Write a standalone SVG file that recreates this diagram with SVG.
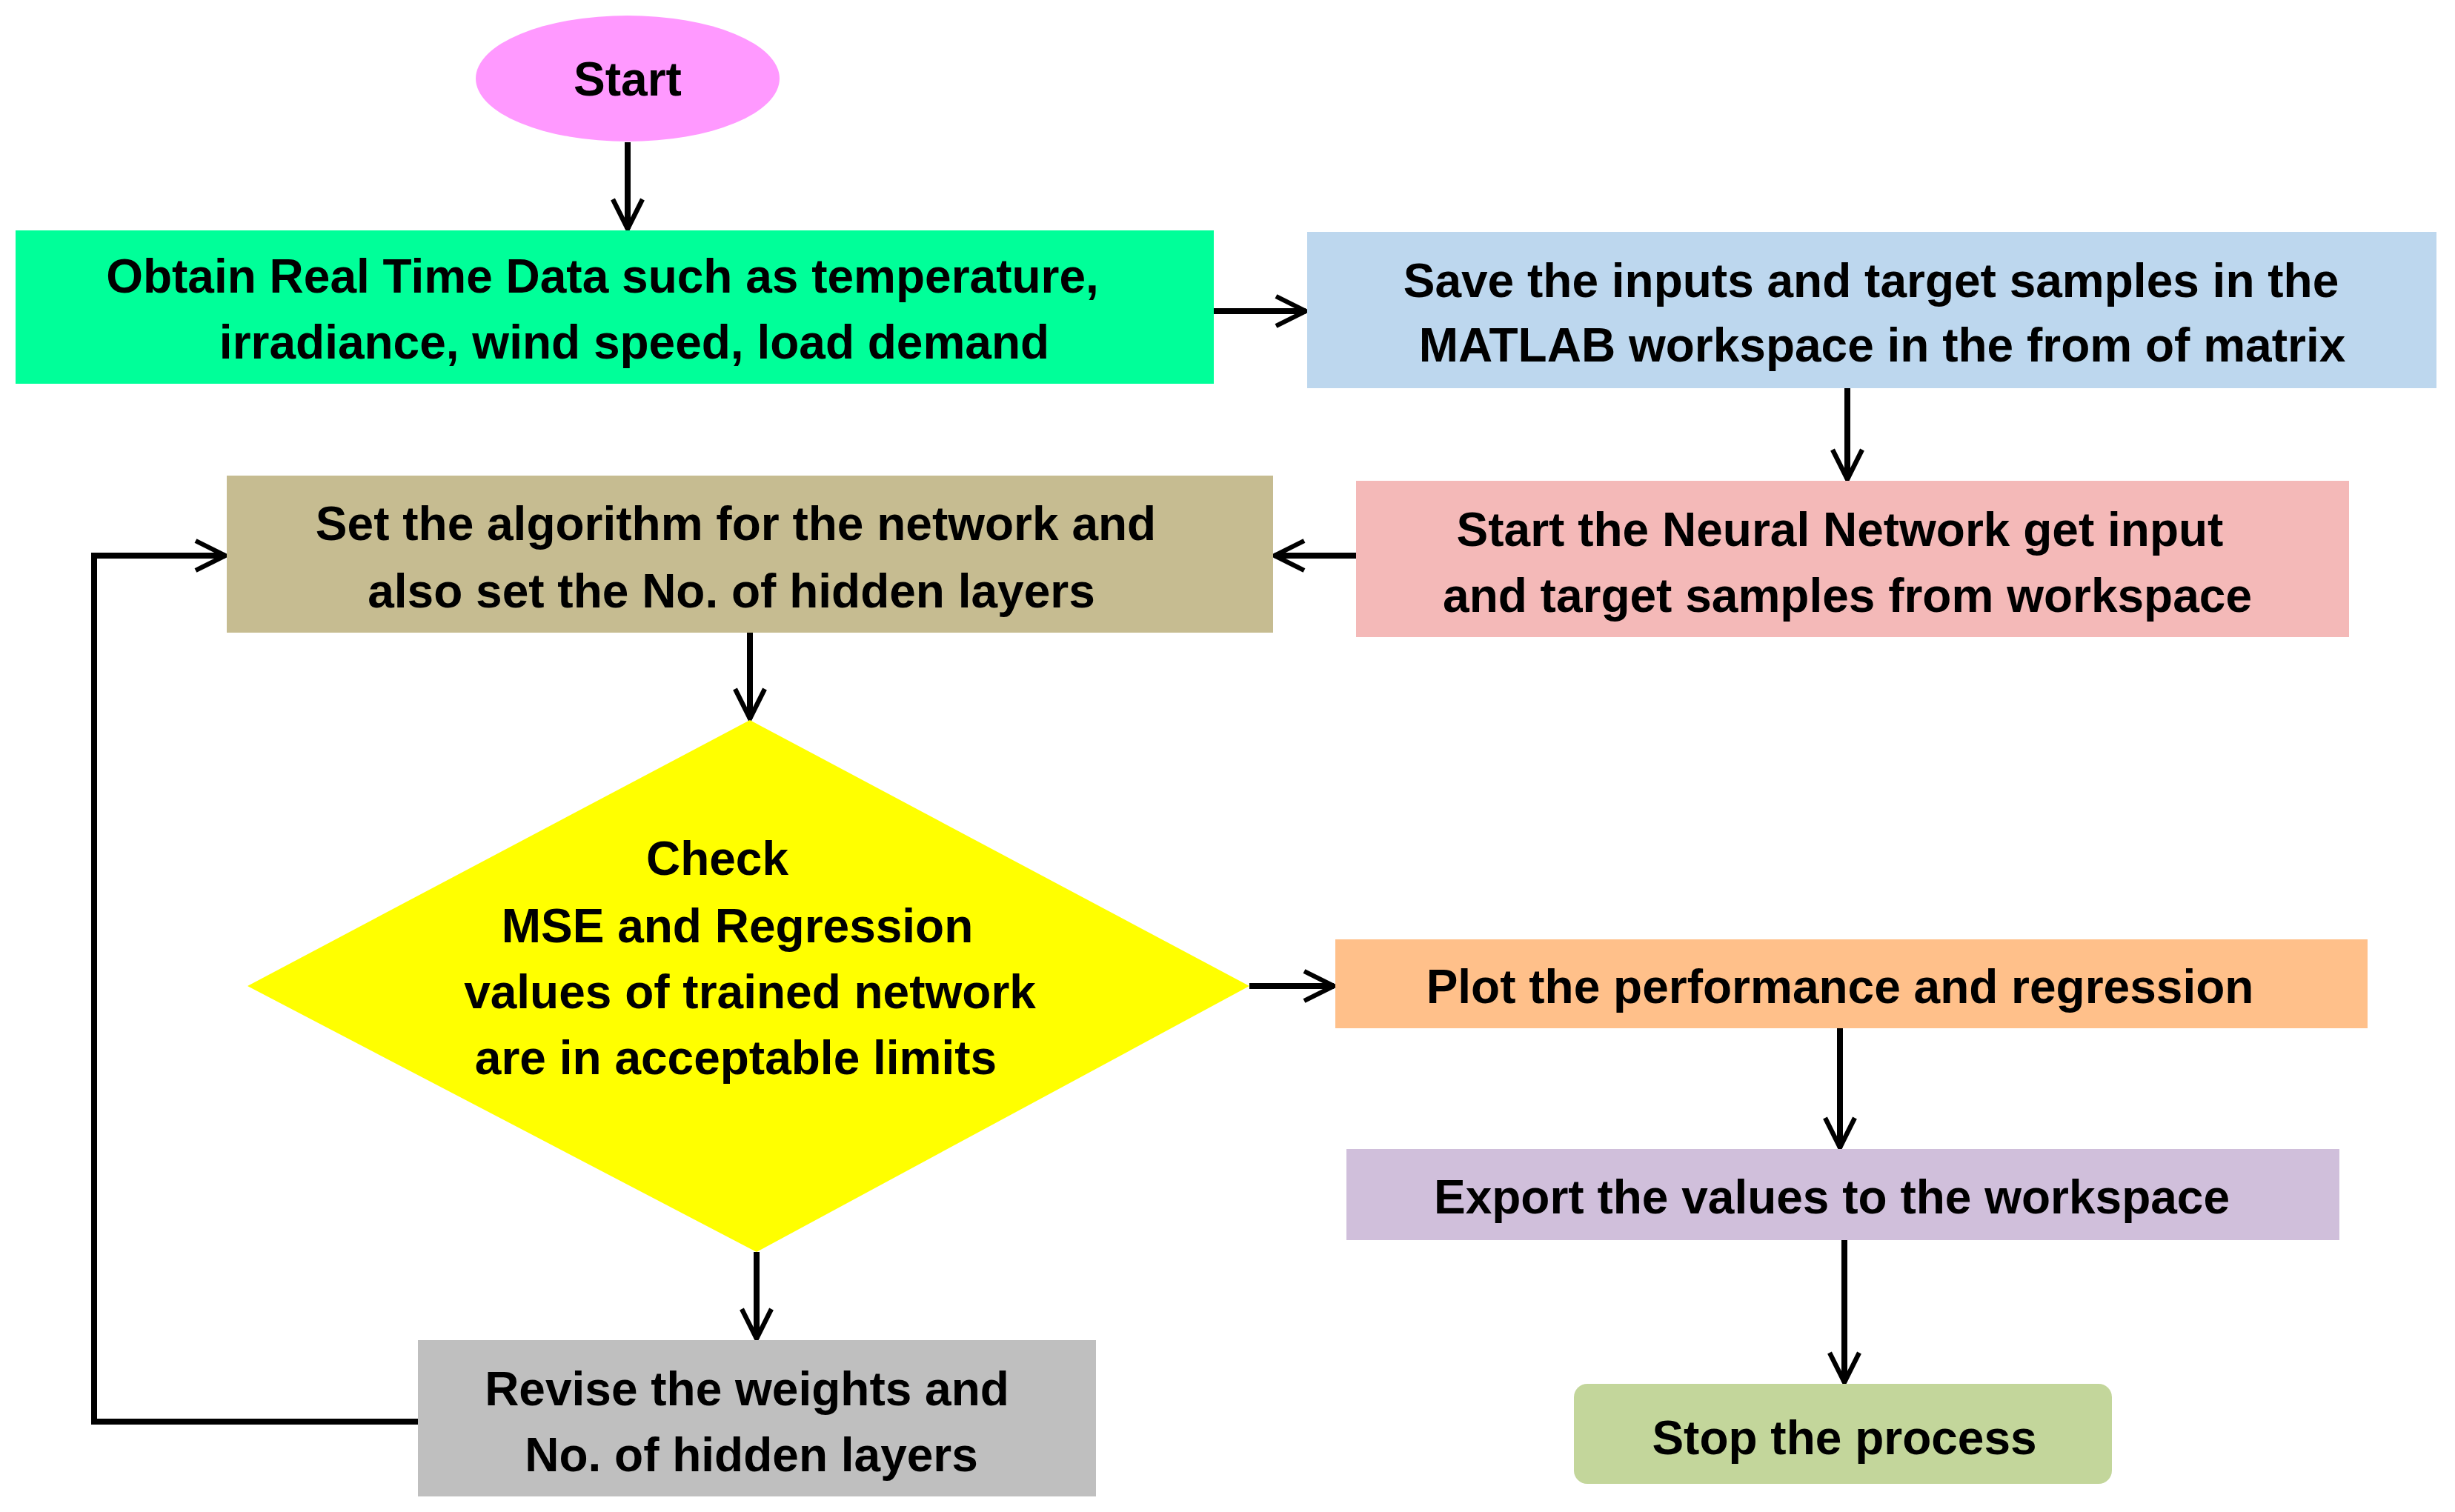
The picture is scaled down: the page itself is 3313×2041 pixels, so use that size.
<svg xmlns="http://www.w3.org/2000/svg" width="3313" height="2041" viewBox="0 0 3313 2041">
<defs>
<style>
text{font-family:"Liberation Sans",Arial,sans-serif;font-weight:bold;font-size:64px;fill:#000;text-anchor:middle}
.c{stroke:#000;stroke-width:8;fill:none}
</style>
<marker id="ah" viewBox="0 0 12 12" refX="11" refY="6" markerWidth="6" markerHeight="6" orient="auto" markerUnits="strokeWidth">
<path d="M1,1 L11,6 L1,11" fill="none" stroke="#000" stroke-width="1.6"/>
</marker>
</defs>
<rect width="3313" height="2041" fill="#fff"/>
<g id="connectors">
<line class="c" x1="847" y1="192" x2="847" y2="309" marker-end="url(#ah)"/>
<line class="c" x1="1638" y1="420" x2="1762" y2="420" marker-end="url(#ah)"/>
<line class="c" x1="2493" y1="524" x2="2493" y2="647" marker-end="url(#ah)"/>
<line class="c" x1="1830" y1="750" x2="1720" y2="750" marker-end="url(#ah)"/>
<line class="c" x1="1012" y1="854" x2="1012" y2="970" marker-end="url(#ah)"/>
<line class="c" x1="1686" y1="1331" x2="1800" y2="1331" marker-end="url(#ah)"/>
<line class="c" x1="2483" y1="1388" x2="2483" y2="1549" marker-end="url(#ah)"/>
<line class="c" x1="2489" y1="1674" x2="2489" y2="1866" marker-end="url(#ah)"/>
<line class="c" x1="1021" y1="1690" x2="1021" y2="1807" marker-end="url(#ah)"/>
<polyline class="c" points="564,1919 127,1919 127,750 304,750" marker-end="url(#ah)"/>
</g>
<g id="start"><ellipse cx="847" cy="106" rx="205" ry="85" fill="#FF99FF"/><text x="847" y="129">Start</text></g>
<g id="obtain"><rect x="21" y="311" width="1617" height="207" fill="#00FF99"/><text x="813" y="395">Obtain Real Time Data such as temperature,</text><text x="856" y="484">irradiance, wind speed, load demand</text></g>
<g id="save"><rect x="1764" y="313" width="1524" height="211" fill="#BDD7EE"/><text x="2525" y="401">Save the inputs and target samples in the</text><text x="2540" y="488">MATLAB workspace in the from of matrix</text></g>
<g id="neural"><rect x="1830" y="649" width="1340" height="211" fill="#F4B9B8"/><text x="2483" y="737">Start the Neural Network get input</text><text x="2493" y="826">and target samples from workspace</text></g>
<g id="algo"><rect x="306" y="642" width="1412" height="212" fill="#C6BC91"/><text x="993" y="729">Set the algorithm for the network and</text><text x="987" y="820">also set the No. of hidden layers</text></g>
<g id="check"><polygon points="1012,972 1686,1331 1021,1690 334,1331" fill="#FFFF00"/><text x="968" y="1181">Check</text><text x="995" y="1272">MSE and Regression</text><text x="1012" y="1361">values of trained network</text><text x="993" y="1450">are in acceptable limits</text></g>
<g id="plot"><rect x="1802" y="1268" width="1393" height="120" fill="#FFC08A"/><text x="2483" y="1354">Plot the performance and regression</text></g>
<g id="export"><rect x="1817" y="1551" width="1340" height="123" fill="#D0BFDB"/><text x="2472" y="1638">Export the values to the workspace</text></g>
<g id="stop"><rect x="2124" y="1868" width="726" height="135" rx="18" fill="#C3D69B"/><text x="2489" y="1963">Stop the process</text></g>
<g id="revise"><rect x="564" y="1809" width="915" height="211" fill="#BFBFBF"/><text x="1008" y="1897">Revise the weights and</text><text x="1014" y="1986">No. of hidden layers</text></g>
</svg>
